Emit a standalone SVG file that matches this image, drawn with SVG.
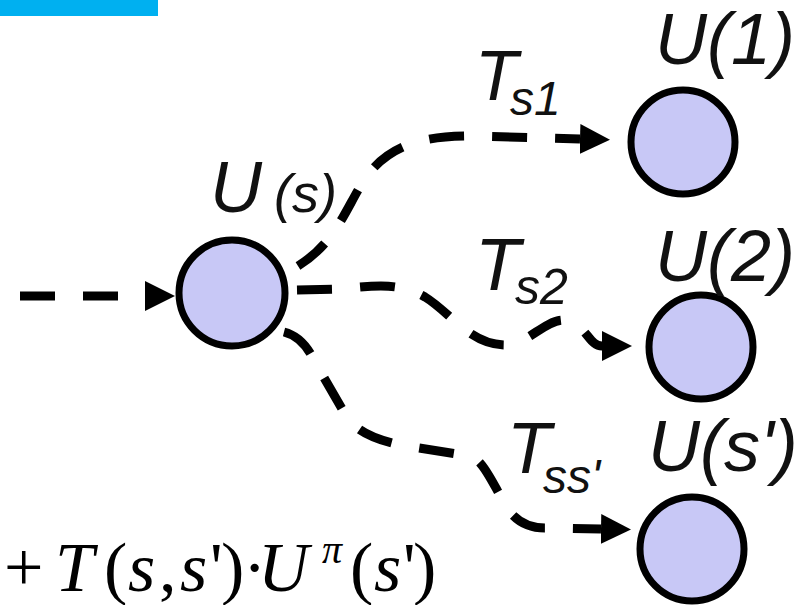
<svg xmlns="http://www.w3.org/2000/svg" width="811" height="605" viewBox="0 0 811 605">
<style>
.node{fill:#c8c8f6;stroke:#000;stroke-width:7}
.lbl{font-family:"Liberation Sans",Arial,sans-serif;font-style:italic;fill:#111}
.conn{fill:none;stroke:#000;stroke-width:9;stroke-dasharray:35 28}
.f{font-family:"Liberation Serif","Times New Roman",serif;font-size:70px;fill:#000}
.fi{font-style:italic}
</style>
<defs>
<marker id="ah" viewBox="0 0 30 30" refX="0" refY="15" markerWidth="30" markerHeight="30" markerUnits="userSpaceOnUse" orient="auto">
<path d="M0,0 L30,15 L0,30 z" fill="#000"/>
</marker>
</defs>
<rect x="0" y="0" width="158" height="16" fill="#00b0f0"/>
<g id="connectors">
<path class="conn" d="M20,296 L145,296" marker-end="url(#ah)"/>
<path class="conn" d="M298,266 C340,240 348,200 370,172 C395,142 430,136 470,136 L580,139" marker-end="url(#ah)"/>
<path class="conn" d="M297,290 L340,289 C380,285 400,283 425,297 C450,312 470,345 505,345 C530,345 550,312 572,322 C588,330 590,346 602,346" marker-end="url(#ah)"/>
<path class="conn" d="M284,332 C300,336 308,348 315,362 L345,414 C355,430 370,438 400,445 L470,456 C485,460 495,490 510,512 C518,522 530,528 545,528 L601,529" marker-end="url(#ah)"/>
</g>
<g id="node-us">
<circle class="node" cx="232" cy="293" r="53"/>
<text class="lbl" x="210" y="212" font-size="72">U<tspan dx="12" font-size="54">(s)</tspan></text>
</g>
<g id="node-u1">
<circle class="node" cx="683" cy="142" r="52"/>
<text class="lbl" x="655" y="64" font-size="72">U(1)</text>
</g>
<g id="node-u2">
<circle class="node" cx="701" cy="347" r="52"/>
<text class="lbl" x="655" y="281" font-size="72">U(2)</text>
</g>
<g id="node-us2">
<circle class="node" cx="692" cy="549" r="52"/>
<text class="lbl" x="648" y="471" font-size="72">U(s')</text>
</g>
<g id="labels">
<text class="lbl" x="475" y="100" font-size="70">T</text>
<text class="lbl" x="510" y="115" font-size="48">s1</text>
<text class="lbl" x="475" y="290" font-size="74">T</text>
<text class="lbl" x="515" y="304" font-size="50">s2</text>
<text class="lbl" x="507" y="473" font-size="72">T</text>
<text class="lbl" x="543" y="493" font-size="48">ss'</text>
</g>
<g id="formula">
<text class="f" y="591"><tspan x="4">+</tspan><tspan x="55" class="fi">T</tspan><tspan x="104">(</tspan><tspan x="128" class="fi">s</tspan><tspan x="159">,</tspan><tspan x="180" class="fi">s</tspan><tspan x="210">'</tspan><tspan x="221">)</tspan><tspan x="243">·</tspan><tspan x="258" class="fi">U</tspan><tspan x="322" y="563" font-size="40" class="fi">π</tspan><tspan x="350" y="591">(</tspan><tspan x="374" class="fi">s</tspan><tspan x="403">'</tspan><tspan x="413">)</tspan></text>
</g>
</svg>
